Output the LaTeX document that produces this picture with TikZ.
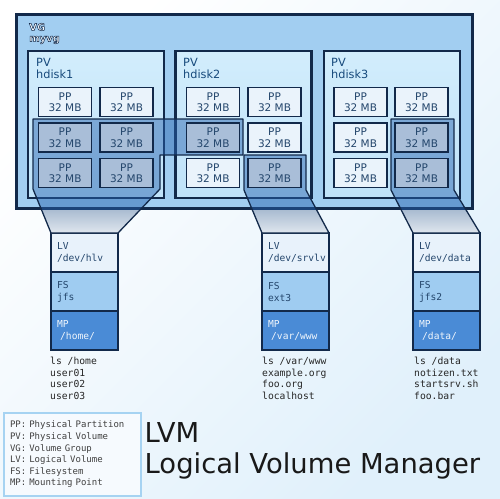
\documentclass[tikz,border=0pt]{standalone}
\usepackage{fontspec}
\setmainfont{DejaVu Sans}
\setmonofont{DejaVu Sans Mono}
\usepackage{tikz}
\usetikzlibrary{positioning}
\definecolor{navy}{HTML}{12294A}
\definecolor{vgblue}{HTML}{A2CEF1}
\definecolor{pvblue}{HTML}{BFE2F9}
\definecolor{pvtop}{HTML}{D2EDFC}
\definecolor{ppfree}{HTML}{EAF3FB}
\definecolor{ppused}{HTML}{A9BED8}
\definecolor{lvgroup}{HTML}{2662AE}
\definecolor{funneltop}{HTML}{7B97B8}
\definecolor{funnelbot}{HTML}{DFE6EE}
\definecolor{lvfill}{HTML}{E8F2FB}
\definecolor{fsfill}{HTML}{9FCCF1}
\definecolor{mpfill}{HTML}{4A8BD6}
\definecolor{pvtext}{HTML}{174A7C}
\definecolor{pptext}{HTML}{24466C}
\definecolor{legendline}{HTML}{A6D3F2}
\definecolor{bgblue}{HTML}{E0F0FB}
\newcommand{\outlined}[1]{\special{pdf:literal direct 2 Tr 0.5 w 0.07 0.16 0.29 RG}#1\special{pdf:literal direct 0 Tr}}

\begin{document}
\begin{tikzpicture}[x=1pt, y=-1pt,
    pp/.style={rectangle, draw=navy, line width=1.6pt, fill=ppfree, minimum width=53pt, minimum height=29pt, inner sep=0pt, align=center, text=pptext, font=\fontsize{10.5}{11.5}\selectfont},
    ppuse/.style={pp, fill=ppused},
    pvbox/.style={rectangle, draw=navy, line width=2.4pt, top color=pvtop, bottom color=pvblue, minimum width=136pt, minimum height=147pt},
    pvlabel/.style={inner sep=0pt, align=left, text=pvtext, font=\fontsize{11.3}{12}\selectfont},
    lvbox/.style={rectangle, draw=navy, line width=1.6pt, fill=lvfill, minimum width=67pt, minimum height=39pt, outer sep=0pt, inner xsep=6pt, text width=55pt, align=left, text=pptext, font=\ttfamily\fontsize{9.6}{12}\selectfont},
    fsbox/.style={lvbox, fill=fsfill},
    mpbox/.style={lvbox, fill=mpfill, text=white!92!mpfill},
    lsout/.style={inner sep=0pt, align=left, text=black!85, font=\ttfamily\fontsize{9.7}{11.5}\selectfont},
    lvshade/.style={fill=lvgroup, fill opacity=0.47},
    lvline/.style={draw=navy, line width=1.3pt, line join=round}]

    \useasboundingbox (0,0) rectangle (500,498);
    \shade[top color=white, bottom color=bgblue, shading angle=45] (0,0) rectangle (500,498);

    % logical volumes
    \node[lvbox] (hlv) at (84.5,252.5) {LV\\/dev/hlv};
    \node[fsbox, below=0pt of hlv] (hfs) {FS\\jfs};
    \node[mpbox, below=0pt of hfs] (hmp) {MP\\\ /home/};
    \node[lvbox] (srvlv) at (295.5,252.5) {LV\\/dev/srvlv};
    \node[fsbox, below=0pt of srvlv] (srvfs) {FS\\ext3};
    \node[mpbox, below=0pt of srvfs] (srvmp) {MP\\\ /var/www};
    \node[lvbox] (datalv) at (446.5,252.5) {LV\\/dev/data};
    \node[fsbox, below=0pt of datalv] (datafs) {FS\\jfs2};
    \node[mpbox, below=0pt of datafs] (datamp) {MP\\\ /data/};

    \node[lsout, anchor=north west] (hls) at (50,357) {ls /home\\user01\\user02\\user03};
    \node[lsout, anchor=north west] (srvls) at (262,357) {ls /var/www\\example.org\\foo.org\\localhost};
    \node[lsout, anchor=north west] (datals) at (414,357) {ls /data\\notizen.txt\\startsrv.sh\\foo.bar};

    \shade[top color=funneltop, bottom color=funnelbot] (33,189) -- (160,189) -- (hlv.north east) -- (hlv.north west) -- cycle;
    \shade[top color=funneltop, bottom color=funnelbot] (244,190) -- (306,190) -- (srvlv.north east) -- (srvlv.north west) -- cycle;
    \shade[top color=funneltop, bottom color=funnelbot] (391,190) -- (454,190) -- (datalv.north east) -- (datalv.north west) -- cycle;

    % volume group and physical volumes
    \node[rectangle, draw=navy, line width=3pt, fill=vgblue, minimum width=456pt, minimum height=194pt] (vg) at (244,111) {};
    \node[inner sep=0pt, align=left, text=white!88!vgblue, font=\bfseries\fontsize{10}{11}\selectfont, anchor=north west] (vglabel) at (29,23) {\outlined{VG}\\\outlined{myvg}};

    \node[pvbox] (hdisk1) at (96,124.5) {};
    \node[pvbox] (hdisk2) at (243.5,124.5) {};
    \node[pvbox] (hdisk3) at (392,124.5) {};
    \node[pvlabel, anchor=north west] (hdisk1label) at (36,58) {PV\\hdisk1};
    \node[pvlabel, anchor=north west] (hdisk2label) at (183,58) {PV\\hdisk2};
    \node[pvlabel, anchor=north west] (hdisk3label) at (331,58) {PV\\hdisk3};

    \begin{scope}
        \clip (vg.north west) rectangle (vg.south east);
        \fill[lvshade] (33,119) -- (243,119) -- (243,155) -- (160,155) -- (160,189) -- (hlv.north east) -- (hlv.north west) -- (33,189) -- cycle;
        \fill[lvshade] (244,155) -- (306,155) -- (306,190) -- (srvlv.north east) -- (srvlv.north west) -- (244,190) -- cycle;
        \fill[lvshade] (391,119) -- (454,119) -- (454,190) -- (datalv.north east) -- (datalv.north west) -- (391,190) -- cycle;
    \end{scope}

    % physical partitions
    \node[pp] (pp11) at (65,102) {PP\\32 MB};
    \node[pp] (pp12) at (126.5,102) {PP\\32 MB};
    \node[ppuse] (pp13) at (65,137.5) {PP\\32 MB};
    \node[ppuse] (pp14) at (126.5,137.5) {PP\\32 MB};
    \node[ppuse] (pp15) at (65,173) {PP\\32 MB};
    \node[ppuse] (pp16) at (126.5,173) {PP\\32 MB};

    \node[pp] (pp21) at (213,102) {PP\\32 MB};
    \node[pp] (pp22) at (274.5,102) {PP\\32 MB};
    \node[ppuse] (pp23) at (213,137.5) {PP\\32 MB};
    \node[pp] (pp24) at (274.5,137.5) {PP\\32 MB};
    \node[pp] (pp25) at (213,173) {PP\\32 MB};
    \node[ppuse] (pp26) at (274.5,173) {PP\\32 MB};

    \node[pp] (pp31) at (360.5,102) {PP\\32 MB};
    \node[pp] (pp32) at (421.5,102) {PP\\32 MB};
    \node[pp] (pp33) at (360.5,137.5) {PP\\32 MB};
    \node[ppuse] (pp34) at (421.5,137.5) {PP\\32 MB};
    \node[pp] (pp35) at (360.5,173) {PP\\32 MB};
    \node[ppuse] (pp36) at (421.5,173) {PP\\32 MB};

    \draw[lvline] (33,119) -- (243,119) -- (243,155) -- (160,155) -- (160,189) -- (hlv.north east) -- (hlv.north west) -- (33,189) -- cycle;
    \draw[lvline] (244,155) -- (306,155) -- (306,190) -- (srvlv.north east) -- (srvlv.north west) -- (244,190) -- cycle;
    \draw[lvline] (391,119) -- (454,119) -- (454,190) -- (datalv.north east) -- (datalv.north west) -- (391,190) -- cycle;

    % legend and title
    \node[rectangle, draw=legendline, line width=2pt, fill=white!70!bgblue, minimum width=137pt, minimum height=83pt, inner xsep=6pt, text width=125pt, align=left, text=black!75, font=\ttfamily\fontsize{9}{11.6}\selectfont] (legend) at (72.5,454.5) {PP: Physical Partition\\PV: Physical Volume\\VG: Volume Group\\LV: Logical Volume\\FS: Filesystem\\MP: Mounting Point};
    \node[inner sep=0pt, align=left, text=black!90, font=\fontsize{27.4}{31}\selectfont, anchor=north west] (title) at (144.5,422) {LVM\\Logical Volume Manager};
\end{tikzpicture}
\end{document}
